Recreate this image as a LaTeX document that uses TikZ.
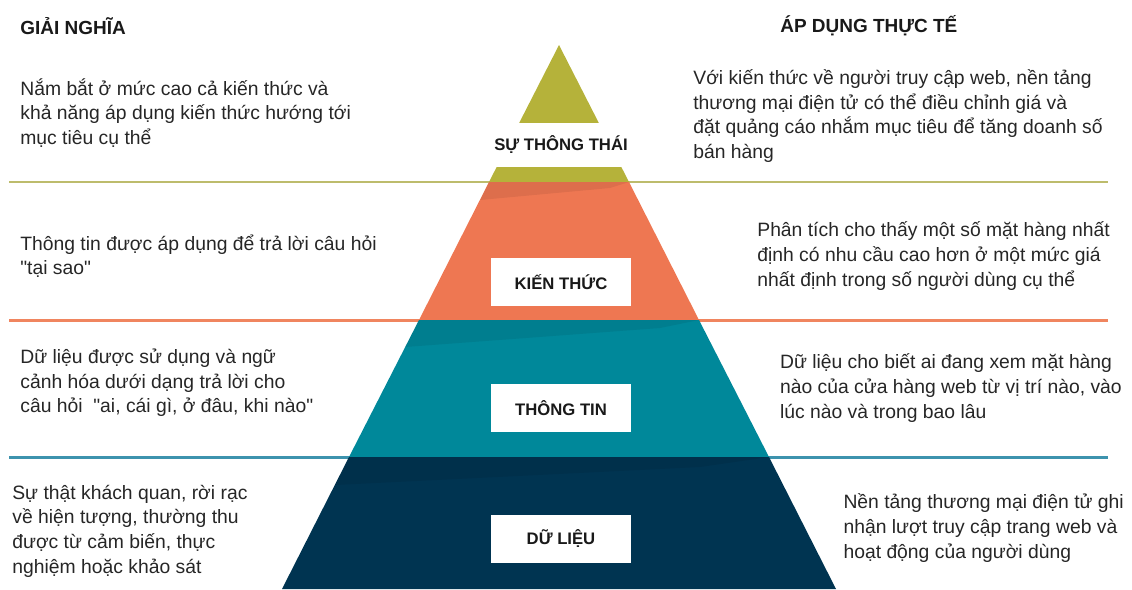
\documentclass[tikz,border=0pt]{standalone}
\usepackage{fontspec}
\setmainfont{Liberation Sans}
\definecolor{wiscol}{HTML}{B5B23A}
\definecolor{wisline}{HTML}{BDBC6C}
\definecolor{knocol}{HTML}{EE7752}
\definecolor{knoline}{HTML}{F0855F}
\definecolor{infcol}{HTML}{00889A}
\definecolor{infline}{HTML}{3D93AE}
\definecolor{datcol}{HTML}{003451}
\begin{document}
\begin{tikzpicture}[x=0.02cm,y=-0.02cm,line join=bevel,
		body/.style={font=\fontsize{11}{14}\selectfont,align=left,anchor=west,inner sep=0pt,text=black!85},
		head/.style={font=\fontsize{10.8}{13}\selectfont\bfseries,anchor=west,inner sep=0pt,text=black!90},
		tag/.style={fill=white,minimum width=2.82cm,minimum height=0.96cm,inner sep=0pt,font=\fontsize{9.5}{11}\selectfont\bfseries,text=black!90},
		shade/.style={fill=black,opacity=.07}]
		\useasboundingbox (0,0) rectangle (1132,589) ;
		% corners of the pyramid
		\coordinate (T) at (559,45) ;
		\coordinate (A1) at (489,182) ; \coordinate (A2) at (629,182) ;
		\coordinate (B1) at (419,320) ; \coordinate (B2) at (699,320) ;
		\coordinate (C1) at (349,457) ; \coordinate (C2) at (769,457) ;
		\coordinate (D1) at (282,589) ; \coordinate (D2) at (836,589) ;
		% rules between the levels
		\draw[wisline,line width=1.7pt] (9,182)--(1108,182) ;
		\draw[knoline,line width=1.7pt] (9,320)--(1108,320) ;
		\draw[infline,line width=1.7pt] (9,457)--(1108,457) ;
		% the four levels
		\fill[wiscol] (T)--(A2)--(A1)--cycle ;
		\fill[knocol] (A1)--(A2)--(B2)--(B1)--cycle ;
		\fill[infcol] (B1)--(B2)--(C2)--(C1)--cycle ;
		\fill[datcol] (C1)--(C2)--(D2)--(D1)--cycle ;
		\fill[shade] (A1)--(A2)--(610,188)--(480,200)--cycle ;
		\fill[shade] (B1)--(B2)--(660,328)--(405,347)--cycle ;
		\fill[shade] (C1)--(C2)--(700,467)--(335,485)--cycle ;
		% level names
		\node[tag,minimum height=0.88cm] (wis) at (561,145) {SỰ THÔNG THÁI} ;
		\node[tag] (kno) at (561,282) {KIẾN THỨC} ;
		\node[tag] (inf) at (561,408) {THÔNG TIN} ;
		\node[tag] (dat) at (561,539) {DỮ LIỆU} ;
		% headings
		\node[head] (hl) at (20,26) {GIẢI NGHĨA} ;
		\node[head] (hr) at (780,26) {ÁP DỤNG THỰC TẾ} ;
		% meaning of each level
		\node[body] (l1) at (20,113) {Nắm bắt ở mức cao cả kiến thức và\\khả năng áp dụng kiến thức hướng tới\\mục tiêu cụ thể} ;
		\node[body] (l2) at (20,256) {Thông tin được áp dụng để trả lời câu hỏi\\\textquotedbl tại sao\textquotedbl} ;
		\node[body] (l3) at (20,383) {Dữ liệu được sử dụng và ngữ\\cảnh hóa dưới dạng trả lời cho\\câu hỏi \ \textquotedbl ai, cái gì, ở đâu, khi nào\textquotedbl} ;
		\node[body] (l4) at (12,531) {Sự thật khách quan, rời rạc\\về hiện tượng, thường thu\\được từ cảm biến, thực\\nghiệm hoặc khảo sát} ;
		% examples from e-commerce
		\node[body] (r1) at (693,116) {Với kiến thức về người truy cập web, nền tảng\\thương mại điện tử có thể điều chỉnh giá và\\đặt quảng cáo nhắm mục tiêu để tăng doanh số\\bán hàng} ;
		\node[body] (r2) at (757,256) {Phân tích cho thấy một số mặt hàng nhất\\định có nhu cầu cao hơn ở một mức giá\\nhất định trong số người dùng cụ thể} ;
		\node[body,fill=white,inner xsep=9.5pt,inner ysep=7pt] (r3) at (763,388) {Dữ liệu cho biết ai đang xem mặt hàng\\nào của cửa hàng web từ vị trí nào, vào\\lúc nào và trong bao lâu} ;
		\node[body,fill=white,inner xsep=7.5pt,inner ysep=8pt] (r4) at (830,528) {Nền tảng thương mại điện tử ghi\\nhận lượt truy cập trang web và\\hoạt động của người dùng} ;
\end{tikzpicture}
\end{document}
